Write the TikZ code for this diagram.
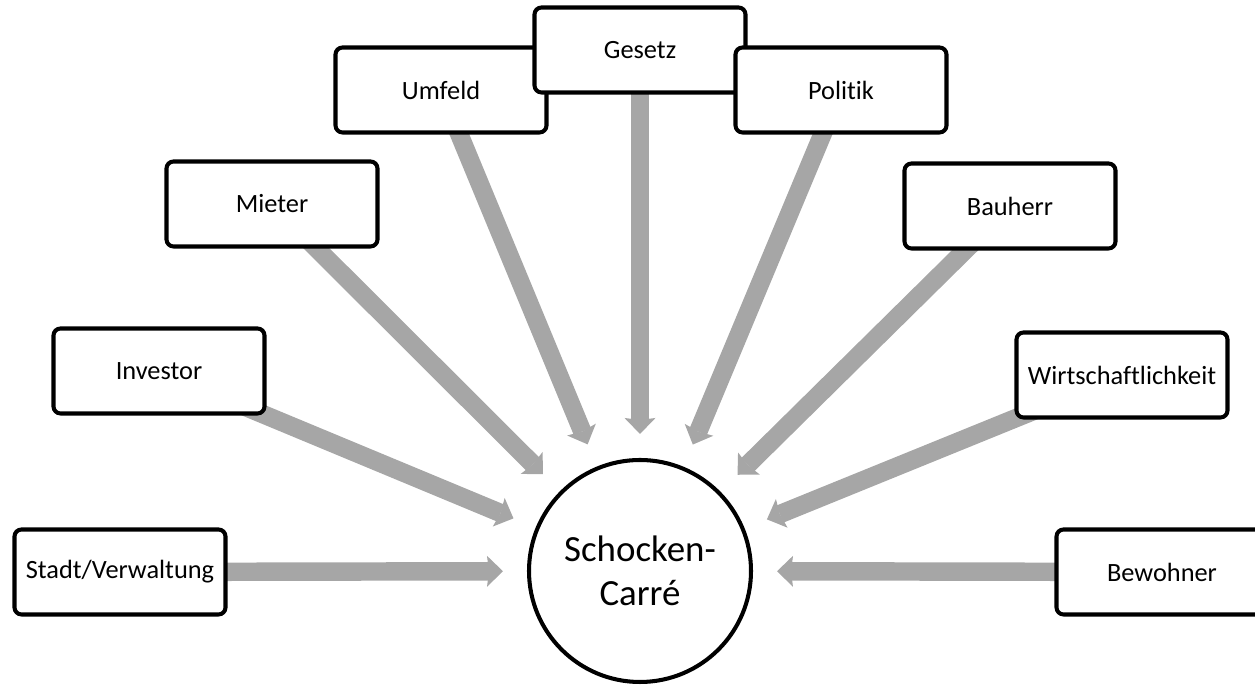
\documentclass[tikz,border=0pt]{standalone}
\usepackage{fontspec}
\setmainfont{Carlito}[Ligatures=NoCommon]
\usetikzlibrary{arrows.meta,backgrounds}
\definecolor{arrowgray}{HTML}{A6A6A6}
\tikzset{
	factor/.style={draw, line width=2.3pt, rounded corners=4pt, fill=white, minimum width=4.22cm, minimum height=1.7cm, inner sep=0pt, font=\fontsize{15}{18}\selectfont},
	hubnode/.style={draw, circle, line width=2.3pt, fill=white, minimum size=4.44cm, inner sep=0pt, align=center, font=\fontsize{21}{25}\selectfont},
	influence/.style={arrowgray, line width=10.5pt, shorten >=0.48cm, -{Stealth[length=0.32cm, width=0.62cm, inset=0.04cm, line width=0pt]}}
}
\newcommand{\factorBox}[4]{\node[factor] (#1) at (#2, #3) {#4};}
\newcommand{\arrowIn}[1]{\draw[influence] (#1.center) -- (hub);}

\begin{document}
\begin{tikzpicture}
		\useasboundingbox (0,0) rectangle (25.1,13.72);
		\clip (0,0) rectangle (25.1,13.72);

		\node[hubnode] (hub) at (12.8, 2.3) {Schocken-\\Carré};

		\factorBox{stadt}{2.4}{2.28}{Stadt/Verwaltung}
		\factorBox{investor}{3.18}{6.3}{Investor}
		\factorBox{mieter}{5.44}{9.64}{Mieter}
		\factorBox{umfeld}{8.82}{11.92}{Umfeld}
		\factorBox{gesetz}{12.8}{12.72}{Gesetz}
		\factorBox{politik}{16.82}{11.92}{Politik}
		\factorBox{bauherr}{20.2}{9.6}{Bauherr}
		\factorBox{wirtschaft}{22.44}{6.22}{Wirtschaftlichkeit}
		\factorBox{bewohner}{23.24}{2.28}{Bewohner}

		\begin{scope}[on background layer]
			\arrowIn{stadt}
			\arrowIn{investor}
			\arrowIn{mieter}
			\arrowIn{umfeld}
			\arrowIn{gesetz}
			\arrowIn{politik}
			\arrowIn{bauherr}
			\arrowIn{wirtschaft}
			\arrowIn{bewohner}
		\end{scope}
	\end{tikzpicture}
\end{document}
